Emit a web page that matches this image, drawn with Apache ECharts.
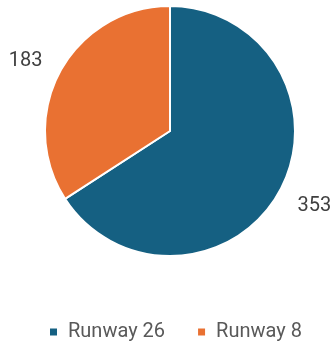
<!DOCTYPE html>
<html>
<head>
<meta charset="utf-8">
<script src="https://cdn.jsdelivr.net/npm/echarts@6/dist/echarts.min.js"></script>
<style>
  html, body { margin: 0; padding: 0; background: #ffffff; }
  #chart { width: 335px; height: 347px; }
</style>
</head>
<body>
<div id="chart"></div>
<script>
// Runway usage counts
const categories = ['Runway 26', 'Runway 8'];
const counts = [353, 183];
const colors = ['#156082', '#E97132'];

const chart = echarts.init(document.getElementById('chart'), null, { renderer: 'canvas' });

chart.setOption({
  animation: false,
  color: colors,
  textStyle: { fontFamily: 'Roboto, "Liberation Sans", sans-serif' },
  legend: {
    data: categories,
    top: 317,
    left: 43,
    icon: 'rect',
    itemWidth: 9,
    itemHeight: 9,
    itemGap: 31,
    textStyle: {
      fontSize: 20,
      color: '#595959',
      fontFamily: 'Roboto, "Liberation Sans", sans-serif',
      padding: [0, 0, 0, 5]
    }
  },
  series: [{
    type: 'pie',
    center: [170, 131],
    radius: ['0%', 125],
    startAngle: 90,
    clockwise: true,
    itemStyle: { borderColor: '#ffffff', borderWidth: 2 },
    label: {
      show: true,
      position: 'outside',
      formatter: '{v|{c}}',
      overflow: 'none',
      distanceToLabelLine: -6,
      rich: {
        v: {
          fontSize: 20,
          color: '#404040',
          fontFamily: 'Roboto, "Liberation Sans", sans-serif',
          padding: [5, 0, 0, 0]
        }
      }
    },
    labelLine: { show: false, length: 27, length2: 0 },
    emphasis: { disabled: true },
    data: categories.map((name, i) => ({ name, value: counts[i] }))
  }]
});
</script>
</body>
</html>
